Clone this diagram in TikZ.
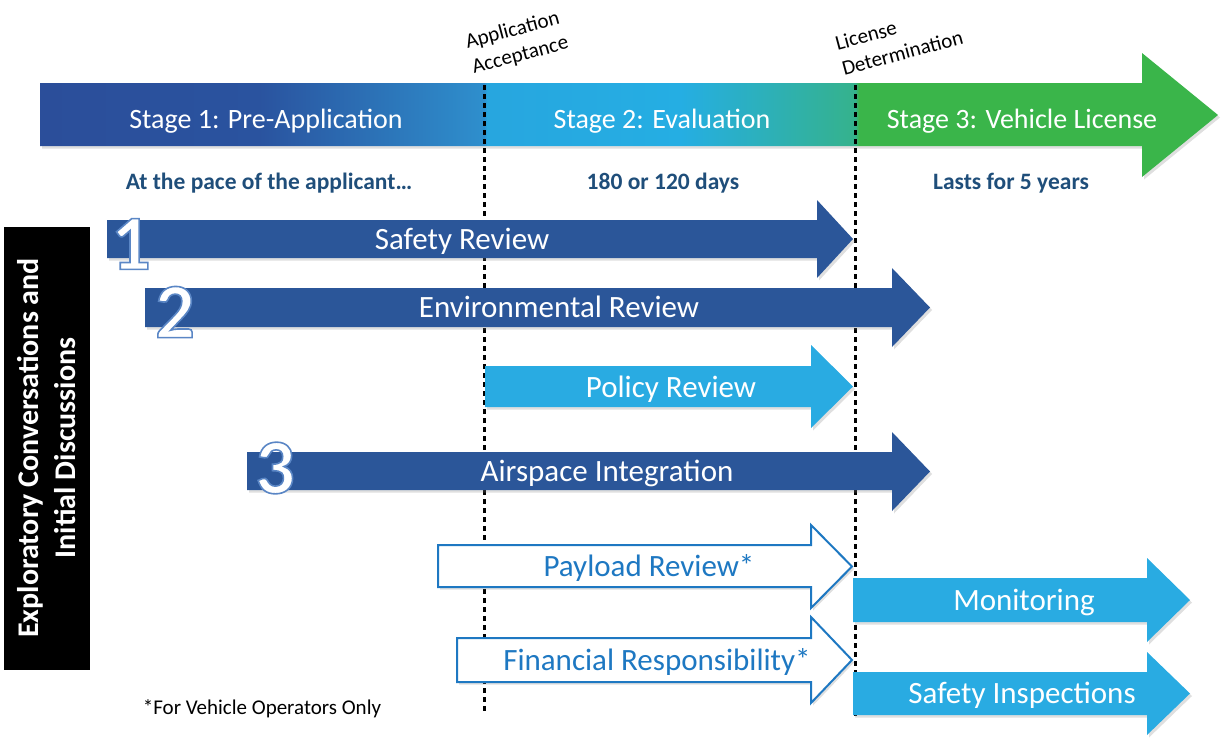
\documentclass[tikz,border=0pt]{standalone}
\usepackage{fontspec}
\setmainfont{Carlito}
\usetikzlibrary{shadows}
\definecolor{darkarrow}{HTML}{2B5699}
\definecolor{lightarrow}{HTML}{29ABE2}
\definecolor{outlineblue}{HTML}{1E78C2}
\definecolor{subtext}{HTML}{1F4E7A}
\definecolor{gA}{HTML}{2B4E9A}
\definecolor{gB}{HTML}{2A539F}
\definecolor{gC}{HTML}{2E8FCD}
\definecolor{gD}{HTML}{27A6DF}
\definecolor{gE}{HTML}{25AEE3}
\definecolor{gF}{HTML}{35B28C}
\definecolor{gG}{HTML}{3AB54A}
\pgfdeclarehorizontalshading{stagegrad}{100bp}{color(0bp)=(gA); color(25bp)=(gA); color(34.3bp)=(gB); color(43.85bp)=(gC); color(43.97bp)=(gD); color(52.2bp)=(gE); color(59.6bp)=(gF); color(59.76bp)=(gG); color(75bp)=(gG); color(100bp)=(gG)}
\newcommand{\fatarrow}[8]{%
  \path[#1] (#2,#3) -- (#5,#3) -- (#5,#6) -- (#8,{(#6+#7)/2}) -- (#5,#7) -- (#5,#4) -- (#2,#4) -- cycle;}
\newcommand{\outlinedigit}[1]{{\color{white}\special{pdf:literal direct 2 Tr 1.6 w 0.353 0.525 0.773 RG}#1\special{pdf:literal direct 0 Tr}}}
\tikzset{
  shadowed/.style={drop shadow={shadow xshift=2pt,shadow yshift=-2.5pt,opacity=0.25}},
  darkfill/.style={fill=darkarrow,shadowed},
  lightfill/.style={fill=lightarrow,shadowed},
  openfill/.style={fill=white,draw=outlineblue,line width=2pt,line join=miter,shadowed},
  arrowlabel/.style={text=white,font=\fontsize{31}{36}\selectfont,anchor=base,inner sep=0pt},
  openlabel/.style={text=outlineblue,font=\fontsize{31}{36}\selectfont,anchor=base,inner sep=0pt},
  stagelabel/.style={text=white,font=\fontsize{28}{33}\selectfont,anchor=base,inner sep=0pt},
  sublabel/.style={text=subtext,font=\fontsize{23.5}{27}\selectfont\bfseries,anchor=base,inner sep=0pt},
  milestone/.style={font=\fontsize{21}{26}\selectfont,align=left,rotate=15,inner sep=0pt},
  numlabel/.style={font=\fontsize{78}{80}\selectfont\bfseries,inner sep=0pt},
  phaseline/.style={line width=3pt,dash pattern=on 5pt off 4pt,black}
}
\begin{document}
\begin{tikzpicture}[x=1pt,y=-1pt]
\useasboundingbox (0,0) rectangle (1226,745);
% top stage bar
\path[shading=stagegrad,shadowed] (40,83) -- (1142,83) -- (1142,53) -- (1218,115) -- (1142,177) -- (1142,146) -- (40,146) -- cycle;
\node[stagelabel] (s1) at (266,128) {Stage 1: Pre-Application};
\node[stagelabel] (s2) at (662,128) {Stage 2: Evaluation};
\node[stagelabel] (s3) at (1022,128) {Stage 3: Vehicle License};
\node[sublabel] (d1) at (269,189) {At the pace of the applicant\dots};
\node[sublabel] (d2) at (663,189) {180 or 120 days};
\node[sublabel] (d3) at (1011,189) {Lasts for 5 years};
% milestone labels
\node[milestone] (acc) at (517,43) {Application\\Acceptance};
\node[milestone] (det) at (899,40) {License\\Determination};
% phase lines
\coordinate (la) at (484,85);
\coordinate (lb) at (484,714);
\coordinate (ra) at (855,85);
\coordinate (rb) at (855,716);
\draw[phaseline] (la) -- (lb);
\draw[phaseline] (ra) -- (rb);
% activity arrows
\fatarrow{darkfill}{107}{220}{258}{817}{200}{278}{853}
\fatarrow{darkfill}{145}{288}{327}{892}{268}{347}{930}
\fatarrow{lightfill}{485}{366}{407}{811}{345}{428}{853}
\fatarrow{darkfill}{247}{452}{490}{892}{432}{511}{930}
\fatarrow{openfill}{438}{545}{587}{811}{525}{608}{852}
\fatarrow{openfill}{457}{638}{682}{811}{617}{703}{852}
\fatarrow{lightfill}{853}{578}{622}{1147}{558}{642}{1190}
\fatarrow{lightfill}{853}{672}{715}{1147}{652}{735}{1190}
\node[arrowlabel] (safety) at (462,249) {Safety Review};
\node[arrowlabel] (env) at (559,317) {Environmental Review};
\node[arrowlabel] (policy) at (671,397) {Policy Review};
\node[arrowlabel] (air) at (607,481) {Airspace Integration};
\node[openlabel] (payload) at (649,576) {Payload Review*};
\node[openlabel] (fin) at (657,670) {Financial Responsibility*};
\node[arrowlabel] (mon) at (1024,610) {Monitoring};
\node[arrowlabel] (insp) at (1022,703) {Safety Inspections};
% numbers
\node[numlabel] (n1) at (131,244) {\outlinedigit{1}};
\node[numlabel] (n2) at (175,312) {\outlinedigit{2}};
\node[numlabel] (n3) at (275,468) {\outlinedigit{3}};
% side box
\fill[black] (4,227) rectangle (90,670);
\node[rotate=90,text=white,font=\fontsize{30}{37}\selectfont\bfseries,align=center,inner sep=0pt] (side) at (47,448) {Exploratory Conversations and\\Initial Discussions};
% footnote
\node[anchor=base,font=\fontsize{21}{25}\selectfont,inner sep=0pt] (foot) at (262,714) {*For Vehicle Operators Only};
\end{tikzpicture}
\end{document}
